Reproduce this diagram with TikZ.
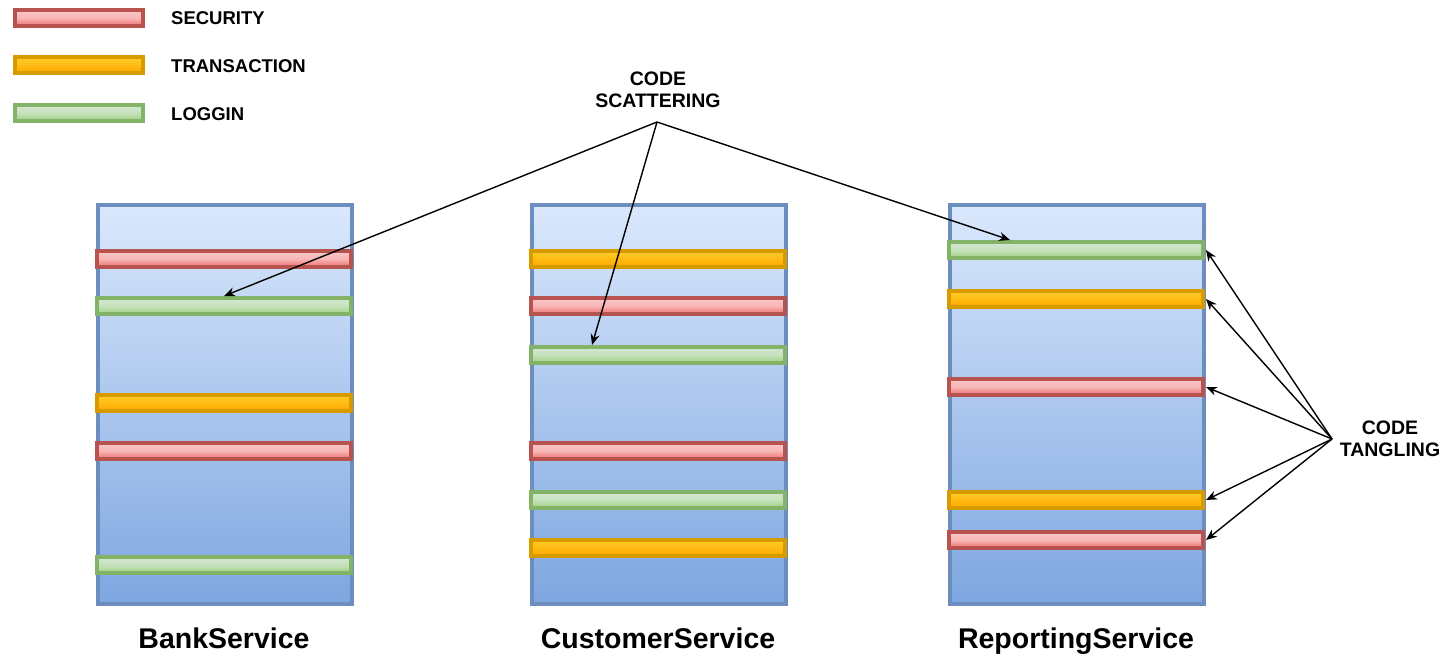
\documentclass[tikz,border=0pt]{standalone}
\usepackage{fontspec}
\setmainfont{Liberation Sans}
\usetikzlibrary{arrows.meta}
\definecolor{boxtop}{RGB}{218,232,252}
\definecolor{boxbot}{RGB}{126,166,224}
\definecolor{boxline}{RGB}{108,142,191}
\definecolor{redline}{RGB}{184,84,80}
\definecolor{redtop}{RGB}{250,200,200}
\definecolor{redbot}{RGB}{236,110,108}
\definecolor{orgline}{RGB}{215,155,0}
\definecolor{orgtop}{RGB}{255,205,40}
\definecolor{orgbot}{RGB}{255,168,0}
\definecolor{grnline}{RGB}{130,179,102}
\definecolor{grntop}{RGB}{213,232,212}
\definecolor{grnbot}{RGB}{160,208,130}
\tikzset{
  service/.style={draw=boxline, line width=4pt, top color=boxtop, bottom color=boxbot,
    minimum width=254pt, minimum height=399pt, inner sep=0pt, anchor=north west},
  bar/.style={line width=4pt, minimum width=254pt, minimum height=16pt, inner sep=0pt},
  secbar/.style={bar, draw=redline, top color=redtop, bottom color=redbot, middle color=redtop!80!redbot},
  trbar/.style={bar, draw=orgline, top color=orgtop, bottom color=orgbot},
  logbar/.style={bar, draw=grnline, top color=grntop, bottom color=grnbot, middle color=grntop!70!grnbot},
  legbar/.style={minimum width=128pt},
  legtext/.style={font=\bfseries\fontsize{18.5}{18.5}\selectfont, anchor=west, inner sep=0pt},
  tag/.style={font=\bfseries\fontsize{19.5}{22}\selectfont, align=center, inner sep=0pt},
  title/.style={font=\bfseries\fontsize{28.5}{28.5}\selectfont, inner sep=0pt, anchor=base},
  arr/.style={-{Stealth[length=11pt,width=9pt]}, line width=1.4pt, black}
}
\begin{document}
\begin{tikzpicture}[x=1pt,y=-1pt]
\useasboundingbox[fill=white] (0,0) rectangle (1447,657);

% legend
\node[secbar, legbar] (lsec) at (79,18) {};
\node[trbar, legbar] (ltr) at (79,65) {};
\node[logbar, legbar] (llog) at (79,113) {};
\node[legtext] (tsec) at (171,18) {SECURITY};
\node[legtext] (ttr) at (171,66) {TRANSACTION};
\node[legtext] (tlog) at (171,114) {LOGGIN};

% services
\node[service] (bank) at (96,203) {};
\node[service] (cust) at (530,203) {};
\node[service] (rep) at (948,203) {};

% BankService concerns
\node[secbar] (b1) at (224,259) {};
\node[logbar] (b2) at (224,306) {};
\node[trbar]  (b3) at (224,403) {};
\node[secbar] (b4) at (224,451) {};
\node[logbar] (b5) at (224,565) {};

% CustomerService concerns
\node[trbar]  (c1) at (658,259) {};
\node[secbar] (c2) at (658,306) {};
\node[logbar] (c3) at (658,355) {};
\node[secbar] (c4) at (658,451) {};
\node[logbar] (c5) at (658,500) {};
\node[trbar]  (c6) at (658,548) {};

% ReportingService concerns
\node[logbar] (r1) at (1076,250) {};
\node[trbar]  (r2) at (1076,299) {};
\node[secbar] (r3) at (1076,387) {};
\node[trbar]  (r4) at (1076,500) {};
\node[secbar] (r5) at (1076,540) {};

% titles
\node[title] (tb) at (224,648) {BankService};
\node[title] (tc) at (658,648) {CustomerService};
\node[title] (tr) at (1076,648) {ReportingService};

% code scattering
\node[tag] (scat) at (658,90) {CODE\\SCATTERING};
\coordinate (sfoot) at (657,122);
\draw[arr] (sfoot) -- (b2.north);
\draw[arr] (sfoot) -- ([xshift=-66pt]c3.north);
\draw[arr] (sfoot) -- ([xshift=-66pt]r1.north);

% code tangling
\node[tag] (tang) at (1390,439) {CODE\\TANGLING};
\coordinate (tfoot) at (1332,439);
\foreach \b in {r1,r2,r3,r4,r5}
  \draw[arr] (tfoot) -- ([xshift=1pt]\b.east);
\end{tikzpicture}
\end{document}
